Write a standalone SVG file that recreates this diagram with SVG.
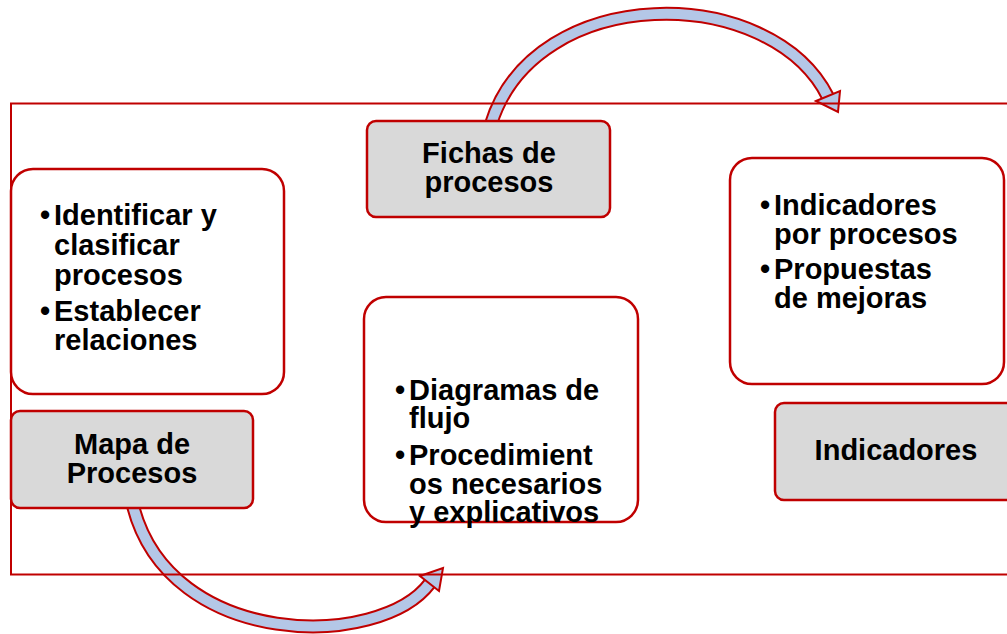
<svg xmlns="http://www.w3.org/2000/svg" width="1007" height="634" viewBox="0 0 1007 634">
<style>
.frame{fill:none;stroke:#c00000;stroke-width:2}
.white{fill:#ffffff;stroke:#c00000;stroke-width:2.5}
.gray{fill:#d9d9d9;stroke:#c00000;stroke-width:2.5}
.t{font-family:"Liberation Sans",Arial,sans-serif;font-weight:bold;font-size:29px;fill:#000}
.c{text-anchor:middle}
.sh-out{fill:none;stroke:#c00000;stroke-width:14}
.sh-in{fill:none;stroke:#b4c7e7;stroke-width:10}
.head{fill:#b4c7e7;stroke:#c00000;stroke-width:2;stroke-linejoin:miter}
</style>
<rect width="1007" height="634" fill="#ffffff"/>
<g id="connectors">
<path class="sh-out" d="M491,124 C535,-18 770,-18 828,97"/>
<path class="sh-in" d="M491,124 C535,-18 770,-18 828,97"/>
<polygon class="head" points="816,101 840,91 838,112"/>
<path class="sh-out" d="M133,506 C170,650 380,650 430,583"/>
<path class="sh-in" d="M133,506 C170,650 380,650 430,583"/>
<polygon class="head" points="420,576 443,568 439,591"/>
</g>
<rect class="frame" x="11" y="103.5" width="1010" height="471"/>
<g id="box-identificar">
<rect class="white" x="11" y="169" width="273" height="225" rx="22"/>
<text class="t" x="40" y="225">•</text><text class="t" x="54" y="225">Identificar y</text>
<text class="t" x="54" y="255">clasificar</text>
<text class="t" x="54" y="285">procesos</text>
<text class="t" x="40" y="321">•</text><text class="t" x="54" y="321">Establecer</text>
<text class="t" x="54" y="350">relaciones</text>
</g>
<g id="box-mapa">
<rect class="gray" x="11" y="411" width="242" height="97" rx="9"/>
<text class="t c" x="132" y="454">Mapa de</text>
<text class="t c" x="132" y="483">Procesos</text>
</g>
<g id="box-fichas">
<rect class="gray" x="367" y="121" width="243" height="96" rx="9"/>
<text class="t c" x="489" y="163">Fichas de</text>
<text class="t c" x="489" y="192">procesos</text>
</g>
<g id="box-diagramas">
<rect class="white" x="364" y="297" width="274" height="225" rx="22"/>
<text class="t" x="395" y="400">•</text><text class="t" x="409" y="400">Diagramas de</text>
<text class="t" x="409" y="428">flujo</text>
<text class="t" x="395" y="465">•</text><text class="t" x="409" y="465">Procedimient</text>
<text class="t" x="409" y="494">os necesarios</text>
<text class="t" x="409" y="522">y explicativos</text>
</g>
<g id="box-indicadores-detalle">
<rect class="white" x="730" y="158" width="274" height="226" rx="22"/>
<text class="t" x="760" y="215">•</text><text class="t" x="774" y="215">Indicadores</text>
<text class="t" x="774" y="244">por procesos</text>
<text class="t" x="760" y="279">•</text><text class="t" x="774" y="279">Propuestas</text>
<text class="t" x="774" y="308">de mejoras</text>
</g>
<g id="box-indicadores">
<rect class="gray" x="775" y="403" width="243" height="97" rx="9"/>
<text class="t c" x="896" y="460">Indicadores</text>
</g>
</svg>
